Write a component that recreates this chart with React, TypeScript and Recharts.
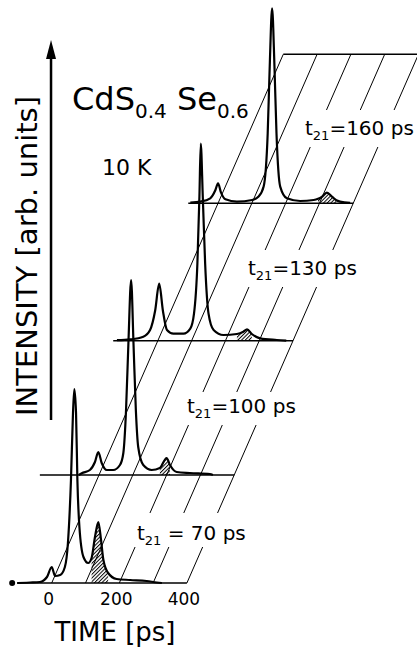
import React from 'react';
import { ComposedChart, Line, Area, XAxis, YAxis, ReferenceLine, ReferenceDot } from 'recharts';

// ---- data (time in ps, intensity in arb. units) ----
const delays = [70, 100, 130, 160];

const times70 = [-117, -64, -35, -14, 0, 10, 25, 39, 48, 57, 63, 67, 72, 76, 82, 94, 108, 118, 128, 138, 146, 153, 167, 192, 232, 281, 311, 326];
const intensity70 = [0, 0.5, 1, 6, 16, 7, 8, 16, 40, 103, 170, 194, 170, 103, 56, 26, 20, 25, 46, 61, 43, 23, 10, 4, 3, 2, 0.5, 0];

const times100 = [-60, -51, -27, -12, -2, 8, 23, 42, 62, 72, 80, 87, 95, 102, 109, 116, 131, 156, 180, 200, 210, 230, 269, 328, 337];
const intensity100 = [0, 1.7, 5, 13, 23, 12, 5, 5, 10, 22, 65, 132, 195, 132, 65, 28, 10, 5, 7, 17, 10, 3, 2, 1, 0];

const times130 = [-121, -82, -43, -23, -8, 4, 15, 27, 46, 76, 96, 107, 117, 123, 127, 133, 140, 150, 165, 194, 234, 253, 264, 278, 303, 352, 380];
const intensity130 = [0.5, 1.3, 4, 10.7, 30, 57, 30, 10.7, 7, 7, 12, 27, 77, 144, 197, 144, 77, 27, 10.7, 5.7, 6.7, 9, 11.4, 6.7, 2.4, 0.7, 0];

const times160 = [-82, -52, -23, -8, 0, 9, 22, 56, 101, 120, 135, 147, 153, 160, 167, 173, 184, 204, 243, 283, 296, 308, 322, 337, 350, 361, 391];
const intensity160 = [0.7, 1.7, 5, 13, 20, 10.6, 4, 1.7, 3.3, 6.7, 16.7, 70, 137, 195, 137, 70, 16.7, 5, 2.3, 3.3, 4.5, 6.7, 10.6, 6.7, 3, 1.7, 0.5];

// echo (hatched) time windows, ps
const echoWindows = [[118, 167], [180, 210], [234, 278], [296, 350]];
// baseline start times, ps (all end at 400 ps)
const baselineStarts = [-117, -175, -132, -88];
const gridTimes = [0, 100, 200, 300, 400];
const tickLabels = [0, 200, 400];

// ---- layout ----
const W = 417;
const H = 651;
const X0_PX = 51.7;
const PX_PER_PS = 0.338;
const BASE_PX = 583;
const PLOT_BOTTOM = 593;
const SLOPE = 2.283;
const levels = [0, 108, 242.3, 379.7];
const TOP_LEVEL = 528.7;
const K = 1 / (SLOPE * PX_PER_PS);
const X_MIN = -X0_PX / PX_PER_PS;
const X_MAX = (W - X0_PX) / PX_PER_PS;
const Y_MIN = BASE_PX - PLOT_BOTTOM;
const T_END = 400;

const gaps = [
  { lo: 36, hi: 70, times: [200, 300, 400] },
  { lo: 158, hi: 191, times: [200, 300, 400] },
  { lo: 296, hi: 333, times: [200, 300, 400] },
  { lo: 436, hi: 473, times: [200, 300, 400] },
];

const traceTimes = [times70, times100, times130, times160];
const traceInts = [intensity70, intensity100, intensity130, intensity160];

const pt = (t: number, level: number, h: number) => ({ x: t + level * K, y: level + h, base: level });

const traces = delays.map((d, i) => ({
  delay: d,
  data: traceTimes[i].map((t, j) => pt(t, levels[i], traceInts[i][j])),
  hatch: traceTimes[i]
    .map((t, j) => ({ t, v: pt(t, levels[i], traceInts[i][j]) }))
    .filter((o) => o.t >= echoWindows[i][0] && o.t <= echoWindows[i][1])
    .map((o) => o.v),
  baseline: [pt(baselineStarts[i], levels[i], 0), pt(T_END, levels[i], 0)],
}));

const topLine = [pt(0, TOP_LEVEL, 0), pt(T_END, TOP_LEVEL, 0)];

const gridSegments: { x: number; y: number }[][] = [];
gridTimes.forEach((t) => {
  const cuts = gaps.filter((g) => g.times.includes(t)).sort((a, b) => a.lo - b.lo);
  let start = 0;
  cuts.forEach((g) => {
    gridSegments.push([pt(t, start, 0), pt(t, g.lo, 0)]);
    start = g.hi;
  });
  gridSegments.push([pt(t, start, 0), pt(t, TOP_LEVEL, 0)]);
});

const FONT = 'DejaVu Sans';

const T21 = ({ x, y, text }: { x: number; y: number; text: string }) => (
  <text x={x} y={y} fontSize={20} fontFamily={FONT} fill="#000">
    t<tspan fontSize={13} dy={5}>21</tspan>
    <tspan dy={-5}>{text}</tspan>
  </text>
);

export default function App() {
  return (
    <div style={{ position: 'absolute', left: 0, top: 0, width: W, height: H, background: '#fff' }}>
      <ComposedChart width={W} height={H} margin={{ top: 0, right: 0, bottom: 0, left: 0 }}>
        <defs>
          <pattern id="hatch" patternUnits="userSpaceOnUse" width="2.6" height="2.6" patternTransform="rotate(45)">
            <line x1="0.5" y1="0" x2="0.5" y2="2.6" stroke="#000" strokeWidth="1" />
          </pattern>
        </defs>
        <XAxis
          type="number"
          dataKey="x"
          domain={[X_MIN, X_MAX]}
          allowDataOverflow
          height={H - PLOT_BOTTOM}
          ticks={tickLabels}
          axisLine={false}
          tickLine={false}
          tickSize={0}
          tickMargin={0}
          tick={{ fontSize: 17, fontFamily: FONT, fill: '#000', dx: -3 }}
        />
        <YAxis type="number" domain={[Y_MIN, BASE_PX]} allowDataOverflow hide />
        {gridSegments.map((seg, i) => (
          <Line key={'g' + i} data={seg} dataKey="y" type="linear" stroke="#000" strokeWidth={1} dot={false} isAnimationActive={false} />
        ))}
        {traces.map((tr, i) => (
          <Line key={'b' + i} data={tr.baseline} dataKey="y" type="linear" stroke="#000" strokeWidth={1.5} dot={false} isAnimationActive={false} />
        ))}
        <Line data={topLine} dataKey="y" type="linear" stroke="#000" strokeWidth={1.5} dot={false} isAnimationActive={false} />
        {traces.map((tr, i) => (
          <Area
            key={'h' + i}
            data={tr.hatch}
            dataKey={(d: any) => [d.base, d.y]}
            type="monotone"
            stroke="none"
            fill="url(#hatch)"
            fillOpacity={1}
            isAnimationActive={false}
          />
        ))}
        {traces.map((tr, i) => (
          <Line key={'t' + i} name={`t21 = ${tr.delay} ps`} data={tr.data} dataKey="y" type="monotone" stroke="#000" strokeWidth={2.2} dot={false} isAnimationActive={false} />
        ))}
        <ReferenceLine segment={[{ x: -2, y: 163 }, { x: -2, y: 530 }]} stroke="#000" strokeWidth={2.5} />
        <ReferenceDot
          x={-2}
          y={543}
          r={0}
          shape={(p: any) => (
            <polygon points={`${p.cx},${p.cy} ${p.cx - 5},${p.cy + 19} ${p.cx + 5},${p.cy + 19}`} fill="#000" />
          )}
        />
      </ComposedChart>
      <svg width={W} height={H} style={{ position: 'absolute', left: 0, top: 0, pointerEvents: 'none' }}>
        <text x={72} y={110} fontSize={32} fontFamily={FONT} fill="#000">
          CdS<tspan fontSize={20} dy={8}>0.4</tspan>
          <tspan dy={-8}> Se</tspan>
          <tspan fontSize={20} dy={8}>0.6</tspan>
        </text>
        <text x={102} y={175} fontSize={22} fontFamily={FONT} fill="#000">10 K</text>
        <text transform="translate(37,256) rotate(-90)" textAnchor="middle" fontSize={29} fontFamily={FONT} fill="#000">
          INTENSITY [arb. units]
        </text>
        <text x={115} y={641} textAnchor="middle" fontSize={26} fontFamily={FONT} fill="#000">TIME [ps]</text>
        <T21 x={305} y={135} text="=160 ps" />
        <T21 x={248} y={275} text="=130 ps" />
        <T21 x={187} y={413} text="=100 ps" />
        <T21 x={137} y={540} text=" = 70 ps" />
      </svg>
    </div>
  );
}
